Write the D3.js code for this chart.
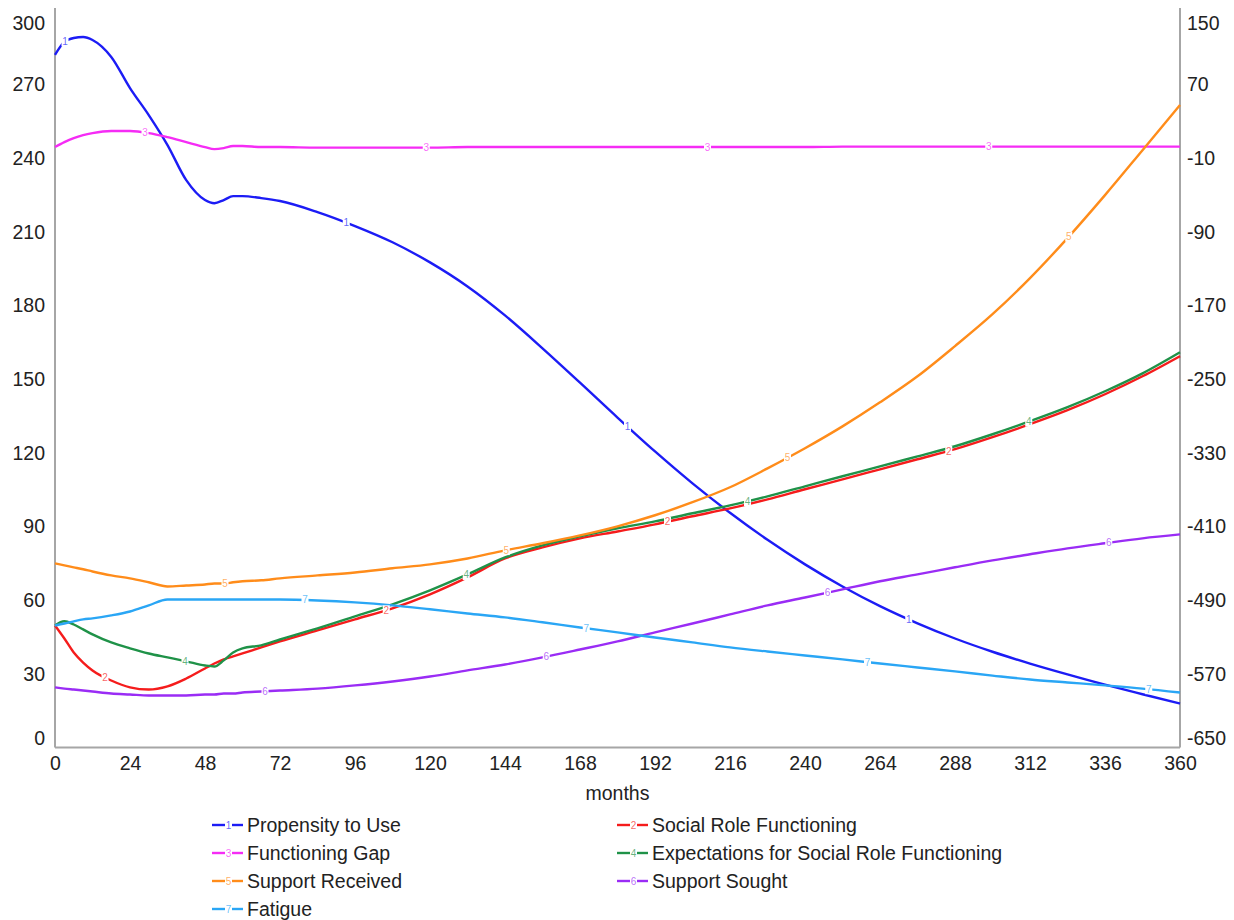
<!DOCTYPE html>
<html>
<head>
<meta charset="utf-8">
<script src="https://cdn.jsdelivr.net/npm/d3@7"></script>
<style>
  body { margin: 0; background: #fff; }
  svg { display: block; font-family: Arial, "Liberation Sans", sans-serif; }
</style>
</head>
<body>
<svg id="chart" width="1234" height="920"></svg>
<script>
// Simulation time (months)
const months = [0, 3, 6, 9, 12, 18, 24, 30, 36, 42, 48, 51, 54, 57, 60, 66, 72,
  84, 96, 108, 120, 132, 144, 156, 168, 180, 192, 204, 216, 228, 240, 252, 264,
  276, 288, 300, 312, 324, 336, 348, 360];

// Left-axis series
const propensityToUse = [282.1, 287.4, 289.0, 289.4, 288.2, 281.3, 268.6, 257.6, 245.4, 231.1,
  223.0, 221.7, 223.0, 224.6, 224.6, 223.8, 222.6, 218.1, 212.4, 205.8, 197.6, 187.8, 176.0,
  162.6, 148.6, 134.4, 120.6, 107.6, 95.6, 84.6, 74.6, 65.6, 57.6, 50.6, 44.4, 39.0, 34.2,
  29.8, 25.6, 21.7, 17.9];
const socialRoleFunctioning = [49.7, 44.4, 38.7, 34.6, 31.4, 27.3, 24.5, 23.6, 24.9, 28.1,
  32.2, 34.2, 35.9, 37.1, 38.3, 40.8, 43.2, 47.7, 52.2, 56.7, 62.4, 69.3, 77.0, 81.5, 85.2,
  88.0, 90.9, 94.2, 97.4, 101.1, 105.2, 109.2, 113.3, 117.4, 121.5, 126.4, 131.7, 137.4,
  143.9, 151.2, 159.4];
const expectationsForSocialRoleFunctioning = [49.7, 51.4, 50.1, 48.1, 46.1, 42.8, 40.4, 38.3,
  36.7, 35.1, 33.4, 33.0, 35.5, 38.7, 40.4, 41.6, 44.0, 48.5, 53.4, 58.3, 64.0, 70.5, 77.4,
  82.3, 86.0, 89.3, 92.1, 95.4, 98.6, 102.3, 106.4, 110.5, 114.5, 118.6, 122.7, 127.6,
  132.9, 138.6, 145.1, 152.4, 161.0];
const supportReceived = [75.0, 74.2, 73.4, 72.6, 71.7, 70.1, 68.9, 67.3, 65.6, 66.0, 66.4,
  66.8, 66.8, 67.3, 67.7, 68.1, 68.9, 70.1, 71.3, 73.0, 74.6, 77.0, 80.3, 83.2, 86.4, 90.1,
  94.6, 99.9, 106.0, 113.7, 121.9, 130.8, 140.6, 151.2, 163.5, 176.5, 191.2, 207.5, 225.0,
  243.3, 261.7];
const supportSought = [24.5, 24.0, 23.6, 23.2, 22.8, 22.0, 21.6, 21.2, 21.2, 21.2, 21.6,
  21.6, 22.0, 22.0, 22.4, 22.8, 23.2, 24.0, 25.3, 26.9, 28.9, 31.4, 33.8, 36.7, 39.9, 43.2,
  46.9, 50.5, 54.2, 57.9, 61.1, 64.4, 67.7, 70.5, 73.4, 76.2, 78.7, 81.1, 83.2, 85.2, 86.8];
const fatigue = [49.7, 50.5, 51.4, 52.2, 52.6, 53.8, 55.4, 57.9, 60.3, 60.3, 60.3, 60.3,
  60.3, 60.3, 60.3, 60.3, 60.3, 59.9, 59.1, 57.9, 56.3, 54.6, 53.0, 51.0, 48.9, 46.9, 44.8,
  42.8, 40.8, 39.1, 37.5, 35.9, 34.2, 32.6, 31.0, 29.3, 27.7, 26.5, 25.3, 24.0, 22.4];

// Right-axis series
const functioningGap = [2.2, 7.6, 12.0, 15.2, 17.4, 19.6, 19.6, 17.4, 13.0, 7.6, 2.2, 0.0,
  1.1, 3.3, 3.3, 2.2, 2.2, 1.6, 1.6, 1.6, 1.6, 2.2, 2.2, 2.2, 2.2, 2.2, 2.2, 2.2, 2.2, 2.2,
  2.2, 2.7, 2.7, 2.7, 2.7, 2.7, 2.7, 2.7, 2.7, 2.7, 2.7];

const seriesNames = ["Propensity to Use", "Social Role Functioning", "Functioning Gap",
  "Expectations for Social Role Functioning", "Support Received", "Support Sought", "Fatigue"];
const seriesValues = [propensityToUse, socialRoleFunctioning, functioningGap,
  expectationsForSocialRoleFunctioning, supportReceived, supportSought, fatigue];
const seriesAxis = ["left", "left", "right", "left", "left", "left", "left"];

const xTicks = d3.range(0, 361, 24);
const leftTicks = d3.range(0, 301, 30);
const rightTicks = d3.range(-650, 151, 80);

// ---- styling ----
const colors = ["#1c1cf5", "#f51c1c", "#f52cf5", "#1f9248", "#ff8c1a", "#9a2cf5", "#2aa6f5"];
const fontSize = 19.5;
const svg = d3.select("#chart");
const plotLeft = 55, plotRight = 1180, plotTop = 11, plotBottom = 747.5;

const x = d3.scaleLinear().domain([0, 360]).range([plotLeft, plotRight]);
const yL = d3.scaleLinear().domain([0, 300]).range([plotBottom, plotTop]);
const yR = d3.scaleLinear().domain([-650, 150]).range([plotBottom, plotTop]);
const plain = d => String(d);

function styleAxis(g) {
  g.select(".domain").attr("stroke", "#a6a6a6").attr("stroke-width", 2);
  g.selectAll(".tick text").attr("fill", "#222").attr("font-size", fontSize)
    .attr("font-family", "Arial, 'Liberation Sans', sans-serif");
}

// left axis
const gL = svg.append("g").attr("transform", `translate(${plotLeft},0)`)
  .call(d3.axisLeft(yL).tickValues(leftTicks).tickFormat(plain)
    .tickSize(0).tickPadding(10).tickSizeOuter(0));
styleAxis(gL);
// right axis
const gR = svg.append("g").attr("transform", `translate(${plotRight},0)`)
  .call(d3.axisRight(yR).tickValues(rightTicks).tickFormat(plain)
    .tickSize(0).tickPadding(7).tickSizeOuter(0));
styleAxis(gR);
// keep the end labels inside the plot height
[gL, gR].forEach(g => {
  g.selectAll(".tick text").attr("dy", (d, i, n) =>
    i === 0 ? "-0.15em" : (i === n.length - 1 ? "0.95em" : "0.32em"));
});
gL.select(".domain").attr("d", `M0,${plotBottom}V${plotTop - 3}`);
gR.select(".domain").attr("d", `M0,${plotBottom}V${plotTop - 3}`);

// bottom axis
const gB = svg.append("g").attr("transform", `translate(0,${plotBottom})`)
  .call(d3.axisBottom(x).tickValues(xTicks).tickFormat(plain)
    .tickSize(0).tickPadding(9).tickSizeOuter(0));
styleAxis(gB);
gB.select(".domain").attr("d", `M${plotLeft},0H${plotRight}`);

svg.append("text").attr("x", (plotLeft + plotRight) / 2).attr("y", 800)
  .attr("text-anchor", "middle").attr("font-size", fontSize).attr("fill", "#222").text("months");

// ---- lines ----
const lineGroup = svg.append("g");
const paths = seriesValues.map((vals, i) => {
  const ys = seriesAxis[i] === "left" ? yL : yR;
  const line = d3.line().x(d => x(d[0])).y(d => ys(d[1])).curve(d3.curveMonotoneX);
  const pts = months.map((m, j) => [m, vals[j]]);
  return lineGroup.append("path").datum(pts)
    .attr("d", line).attr("fill", "none")
    .attr("stroke", colors[i]).attr("stroke-width", 2.4)
    .attr("stroke-linejoin", "round");
});

// point on a path at a given screen x
function pointAtX(pathNode, px) {
  let lo = 0, hi = pathNode.getTotalLength();
  for (let k = 0; k < 40; k++) {
    const mid = (lo + hi) / 2;
    if (pathNode.getPointAtLength(mid).x < px) lo = mid; else hi = mid;
  }
  return pathNode.getPointAtLength((lo + hi) / 2);
}

// series number markers along each curve
const markerGroup = svg.append("g");
paths.forEach((p, i) => {
  for (let j = 0; j < 4; j++) {
    const t = 3.2 + 12.8 * i + 90 * j;
    const pt = pointAtX(p.node(), x(t));
    markerGroup.append("rect").attr("x", pt.x - 3.5).attr("y", pt.y - 5)
      .attr("width", 7).attr("height", 10).attr("fill", "#fff");
    markerGroup.append("text").attr("x", pt.x).attr("y", pt.y + 3.5)
      .attr("text-anchor", "middle").attr("font-size", 10)
      .attr("fill", colors[i]).attr("fill-opacity", 0.7).text(i + 1);
  }
});

// ---- legend ----
const legend = svg.append("g");
seriesNames.forEach((name, i) => {
  const col = i % 2, row = Math.floor(i / 2);
  const lx = col === 0 ? 212 : 617;
  const ly = 825 + row * 28;
  const g = legend.append("g").attr("transform", `translate(${lx},${ly})`);
  g.append("line").attr("x1", 0).attr("x2", 13).attr("y1", 0).attr("y2", 0)
    .attr("stroke", colors[i]).attr("stroke-width", 2.4);
  g.append("line").attr("x1", 20).attr("x2", 31).attr("y1", 0).attr("y2", 0)
    .attr("stroke", colors[i]).attr("stroke-width", 2.4);
  g.append("text").attr("x", 16.5).attr("y", 3.5).attr("text-anchor", "middle")
    .attr("font-size", 10).attr("fill", colors[i]).attr("fill-opacity", 0.7).text(i + 1);
  g.append("text").attr("x", 35).attr("y", 7).attr("font-size", fontSize)
    .attr("fill", "#222").text(name);
});
</script>
</body>
</html>
